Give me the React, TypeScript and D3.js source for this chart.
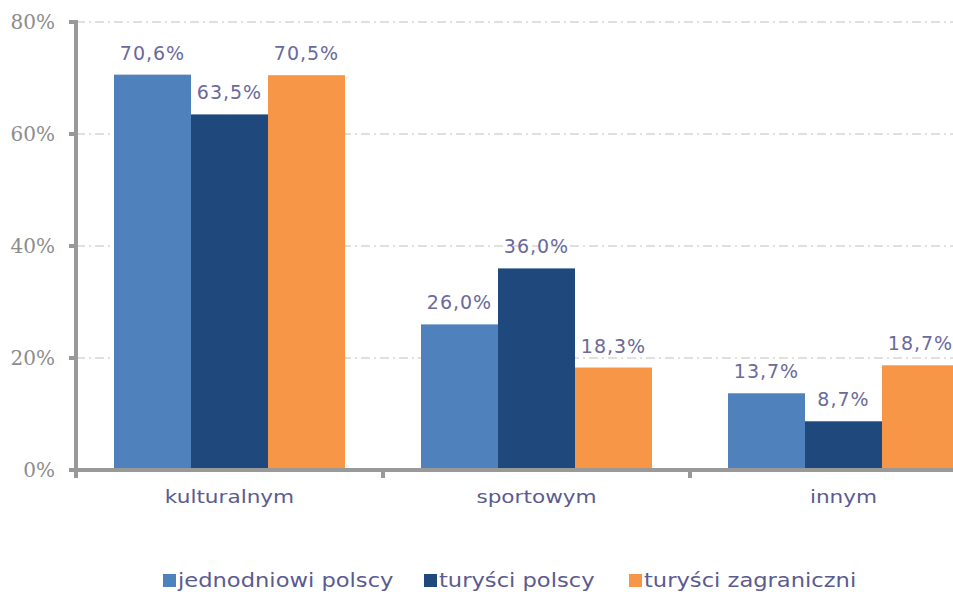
import { useEffect, useRef } from "react";
import * as d3 from "d3";

const categories = ["kulturalnym", "sportowym", "innym"];
const seriesNames = ["jednodniowi polscy", "turyści polscy", "turyści zagraniczni"];
const seriesColors = ["#4f81bd", "#1f497d", "#f79646"];
const jednodniowi = [70.6, 26.0, 13.7];
const turysciPolscy = [63.5, 36.0, 8.7];
const turysciZagraniczni = [70.5, 18.3, 18.7];
const yTicks = [0, 20, 40, 60, 80];

export default function App() {
  const svgRef = useRef<SVGSVGElement>(null);

  useEffect(() => {
    const svg = d3.select(svgRef.current);
    svg.selectAll("*").remove();

    const left = 76;
    const top = 22;
    const bottom = 470;
    const bandW = 307;
    const sans = "'DejaVu Sans', Verdana, sans-serif";

    const series = [jednodniowi, turysciPolscy, turysciZagraniczni];

    const y = d3.scaleLinear().domain([0, 80]).range([bottom, top]);
    const x0 = d3
      .scaleBand()
      .domain(categories)
      .range([left, left + bandW * categories.length])
      .padding(0);
    const x1 = d3
      .scaleBand()
      .domain(seriesNames)
      .range([38, bandW - 38])
      .padding(0);

    // siatka
    svg
      .append("g")
      .selectAll("line")
      .data(yTicks.filter((t) => t > 0))
      .enter()
      .append("line")
      .attr("x1", left)
      .attr("x2", 953)
      .attr("y1", (d) => y(d))
      .attr("y2", (d) => y(d))
      .attr("stroke", "#c0c0c0")
      .attr("stroke-width", 1)
      .attr("stroke-dasharray", "9,4,2,4");

    // słupki i etykiety wartości
    series.forEach((vals, si) => {
      svg
        .append("g")
        .selectAll("rect")
        .data(vals)
        .enter()
        .append("rect")
        .attr("x", (_d, i) => x0(categories[i])! + x1(seriesNames[si])!)
        .attr("y", (d) => y(d))
        .attr("width", x1.bandwidth())
        .attr("height", (d) => bottom - y(d))
        .attr("fill", seriesColors[si]);

      svg
        .append("g")
        .selectAll("text")
        .data(vals)
        .enter()
        .append("text")
        .attr("x", (_d, i) => x0(categories[i])! + x1(seriesNames[si])! + x1.bandwidth() / 2)
        .attr("y", (d) => y(d) - 15)
        .attr("text-anchor", "middle")
        .style("font-family", sans)
        .style("font-size", "19px")
        .attr("letter-spacing", "1px")
        .attr("fill", "#6a6a9c")
        .text((d) => d.toFixed(1).replace(".", ",") + "%");
    });

    // osie
    svg
      .append("line")
      .attr("x1", left)
      .attr("x2", left)
      .attr("y1", top - 2)
      .attr("y2", bottom + 8)
      .attr("stroke", "#999")
      .attr("stroke-width", 4);
    svg
      .append("line")
      .attr("x1", left - 2)
      .attr("x2", 953)
      .attr("y1", bottom)
      .attr("y2", bottom)
      .attr("stroke", "#999")
      .attr("stroke-width", 4);

    svg
      .append("g")
      .selectAll("line")
      .data(yTicks)
      .enter()
      .append("line")
      .attr("x1", left - 7)
      .attr("x2", left)
      .attr("y1", (d) => y(d))
      .attr("y2", (d) => y(d))
      .attr("stroke", "#999")
      .attr("stroke-width", 4);

    svg
      .append("g")
      .selectAll("text")
      .data(yTicks)
      .enter()
      .append("text")
      .attr("x", left - 21)
      .attr("y", (d) => y(d) + 7)
      .attr("text-anchor", "end")
      .style("font-family", "'DejaVu Serif', 'Liberation Serif', serif")
      .style("font-size", "20px")
      .attr("fill", "#8c8c8c")
      .text((d) => d + "%");

    svg
      .append("g")
      .selectAll("line")
      .data(categories.slice(1))
      .enter()
      .append("line")
      .attr("x1", (d) => x0(d)!)
      .attr("x2", (d) => x0(d)!)
      .attr("y1", bottom)
      .attr("y2", bottom + 8)
      .attr("stroke", "#999")
      .attr("stroke-width", 4);

    svg
      .append("g")
      .selectAll("text")
      .data(categories)
      .enter()
      .append("text")
      .attr("transform", (d) => `translate(${x0(d)! + bandW / 2},503) scale(1.2,1)`)
      .attr("text-anchor", "middle")
      .style("font-family", sans)
      .style("font-size", "18px")
      .attr("fill", "#5b5b8f")
      .text((d) => d);

    // legenda
    const legendX = [163, 424, 629];
    const lg = svg
      .append("g")
      .selectAll("g")
      .data(seriesNames)
      .enter()
      .append("g")
      .attr("transform", (_d, i) => `translate(${legendX[i]},0)`);
    lg.append("rect")
      .attr("x", 0)
      .attr("y", 574)
      .attr("width", 13)
      .attr("height", 13)
      .attr("fill", (_d, i) => seriesColors[i]);
    lg.append("text")
      .attr("transform", "translate(15,587) scale(1.19,1)")
      .style("font-family", sans)
      .style("font-size", "19px")
      .attr("fill", "#5b5b8f")
      .text((d) => d);
  }, []);

  return (
    <svg
      ref={svgRef}
      width={953}
      height={592}
      style={{ position: "absolute", left: 0, top: 0, background: "#fff" }}
    />
  );
}
